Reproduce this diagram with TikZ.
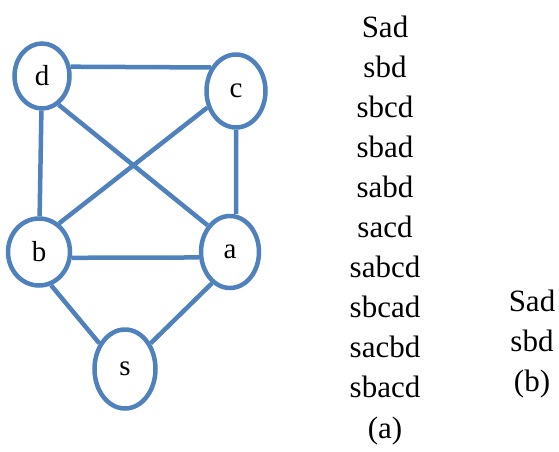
\documentclass[tikz,border=0pt]{standalone}
\usepackage{fontspec}
\setmainfont{Liberation Serif}
\usetikzlibrary{shapes.geometric}
\definecolor{edgeblue}{HTML}{4F81BD}
\begin{document}
\begin{tikzpicture}[x=1pt,y=-1pt,
  vert/.style={ellipse,draw=edgeblue,line width=4.5pt,fill=white,inner sep=0pt,
    font=\fontsize{29}{30}\selectfont},
  edge/.style={draw=edgeblue,line width=4.5pt},
  word/.style={anchor=base,inner sep=0pt,font=\fontsize{31}{34}\selectfont}]
\useasboundingbox (0,0) rectangle (559,451);
\pgfmathsetmacro{\dy}{40.1}
\node[vert,minimum width=55pt,minimum height=65pt] (d) at (42,76) {d};
\node[vert,minimum width=59pt,minimum height=73pt] (c) at (236,91) {c};
\node[vert,minimum width=62pt,minimum height=67pt] (b) at (39,252) {b};
\node[vert,minimum width=58pt,minimum height=72pt] (a) at (230,252) {a};
\node[vert,minimum width=61pt,minimum height=79pt] (s) at (125,369) {s};
\path[edge] (d.18)--(c.137) (d)--(b) (d.-60)--(a.130) (b.55)--(c.210)
  (c.south)--(c.south |- a.north) (b.-10)--(a.190) (b.-70)--(s.135) (a.-120)--(s.45);
\foreach \w [count=\i] in {Sad,sbd,sbcd,sbad,sabd,sacd,sabcd,sbcad,sacbd,sbacd}
  \node[word] (wa\i) at (385,37+\dy*\i-\dy) {\w};
\node[word] (capa) at (385,438) {(a)};
\node[word] (wb1) at (532,311) {Sad};
\node[word] (wb2) at (532,351) {sbd};
\node[word] (capb) at (532,391) {(b)};
\end{tikzpicture}
\end{document}
